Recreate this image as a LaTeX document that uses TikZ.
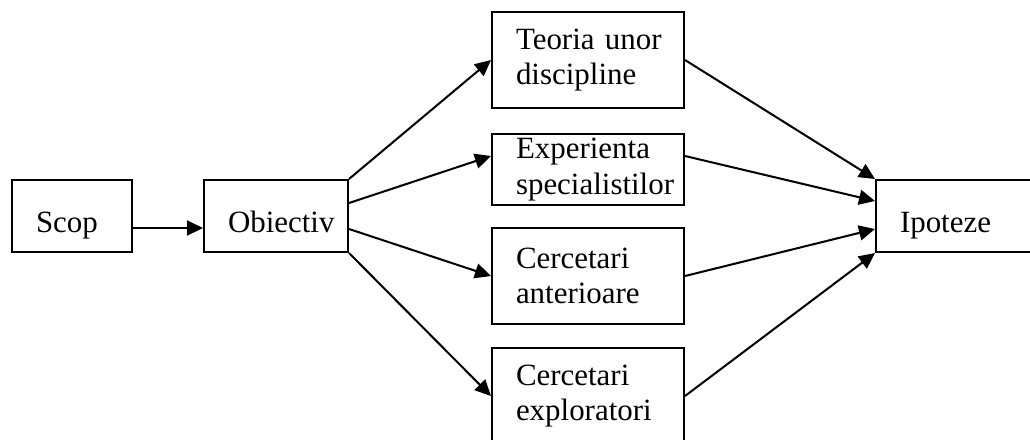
\documentclass[tikz,border=0pt]{standalone}
\usepackage{fontspec}
\setmainfont{Liberation Serif}
\usetikzlibrary{arrows.meta}

\begin{document}
\begin{tikzpicture}[
  font=\fontsize{17.6}{20}\selectfont,
  caseta/.style={draw=black, line width=1.15pt, rectangle, anchor=north west,
                 align=left, inner xsep=0.48cm, inner ysep=0pt},
  unrand/.style={caseta, minimum height=1.44cm,
                 text height=0.8cm, text depth=0.16cm},
  douarand/.style={caseta, text width=2.88cm, minimum width=3.84cm},
  sageata/.style={draw=black, line width=1.15pt,
                  -{Triangle[length=0.32cm, width=0.30cm]}}
]

\useasboundingbox (0,0) rectangle (20.6,8.8);
\clip (0,0) rectangle (20.6,8.8);

%--------------------------------------------------------------
% Scop si obiectiv, la stanga
%--------------------------------------------------------------
\node[unrand, text width=1.44cm, minimum width=2.40cm] (scop) at (0.22,5.22) {Scop};
\node[unrand, text width=1.92cm, minimum width=2.88cm] (obiectiv) at (4.06,5.22) {Obiectiv};

%--------------------------------------------------------------
% Sursele ipotezelor, pe coloana din mijloc
%--------------------------------------------------------------
\node[douarand, minimum height=1.92cm] (teoria) at (9.82,8.58)
  {Teoria~unor\\ discipline};
\node[douarand, minimum height=1.42cm] (experienta) at (9.82,6.14)
  {Experienta\\ specialistilor};
\node[douarand, minimum height=1.92cm] (anterioare) at (9.82,4.26)
  {Cercetari\\ anterioare};
\node[douarand, minimum height=1.92cm] (exploratori) at (9.82,1.86)
  {Cercetari\\ exploratori};

%--------------------------------------------------------------
% Ipoteze, taiata de marginea din dreapta
%--------------------------------------------------------------
\node[unrand, text width=3.04cm, minimum width=4.00cm] (ipoteze) at (17.50,5.22) {Ipoteze};

%--------------------------------------------------------------
% Sageti
%--------------------------------------------------------------
\draw[sageata] ([yshift=-0.24cm]scop.east) -- ([yshift=-0.24cm]obiectiv.west);

\draw[sageata] (obiectiv.north east) -- (teoria.west);
\draw[sageata] ([yshift=0.26cm]obiectiv.east) -- ([yshift=0.27cm]experienta.west);
\draw[sageata] ([yshift=-0.26cm]obiectiv.east) -- (anterioare.west);
\draw[sageata] (obiectiv.south east) -- (exploratori.west);

\draw[sageata] (teoria.east) -- (ipoteze.north west);
\draw[sageata] ([yshift=0.27cm]experienta.east) -- ([yshift=0.30cm]ipoteze.west);
\draw[sageata] (anterioare.east) -- ([yshift=-0.26cm]ipoteze.west);
\draw[sageata] (exploratori.east) -- (ipoteze.south west);

\end{tikzpicture}
\end{document}
